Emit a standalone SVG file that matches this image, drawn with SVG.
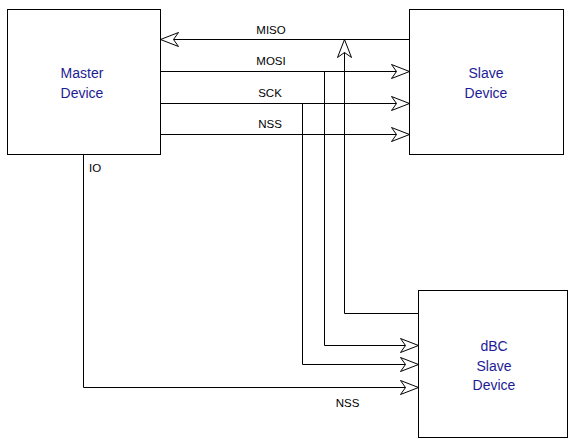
<svg xmlns="http://www.w3.org/2000/svg" width="568" height="439" viewBox="0 0 568 439">
<style>
.box{fill:#fff;stroke:#000;stroke-width:1}
.name{font-family:"Liberation Sans",Arial,sans-serif;font-size:14px;fill:#1c1c96;text-anchor:middle}
.lbl{font-family:"Liberation Sans",Arial,sans-serif;font-size:11.5px;fill:#000;text-anchor:middle}
.wire{fill:none;stroke:#000;stroke-width:1}
</style>
<defs>
<marker id="arr" markerUnits="userSpaceOnUse" markerWidth="22" markerHeight="18" refX="18" refY="7" orient="auto" overflow="visible">
<path d="M0,0 L18,7 L0,14 L5,7 Z" fill="#fff" stroke="#000" stroke-width="1"/>
</marker>
</defs>
<rect width="568" height="439" fill="#fff"/>
<g id="connectors">
<path class="wire" d="M409.5,39.5 H160.5" marker-end="url(#arr)"/>
<path class="wire" d="M160.5,71.5 H409.5" marker-end="url(#arr)"/>
<path class="wire" d="M160.5,103.5 H409.5" marker-end="url(#arr)"/>
<path class="wire" d="M158.5,134.5 H409.5" marker-end="url(#arr)"/>
<path class="wire" d="M418.5,313.5 H344.5 V39.5" marker-end="url(#arr)"/>
<path class="wire" d="M324.5,71.5 V345.5 H418.5" marker-end="url(#arr)"/>
<path class="wire" d="M302.5,103.5 V364.5 H418.5" marker-end="url(#arr)"/>
<path class="wire" d="M83.5,154.5 V387.5 H418.5" marker-end="url(#arr)"/>
<text class="lbl" x="271" y="34">MISO</text>
<text class="lbl" x="271" y="65">MOSI</text>
<text class="lbl" x="270" y="97">SCK</text>
<text class="lbl" x="270" y="128">NSS</text>
<text class="lbl" x="89" y="172" style="text-anchor:start">IO</text>
<text class="lbl" x="347.5" y="407">NSS</text>
</g>
<g id="master">
<rect class="box" x="7.5" y="9.5" width="153" height="145"/>
<text class="name" x="82" y="78">Master</text>
<text class="name" x="82" y="98">Device</text>
</g>
<g id="slave">
<rect class="box" x="409.5" y="9.5" width="154" height="145"/>
<text class="name" x="486" y="78">Slave</text>
<text class="name" x="486" y="98">Device</text>
</g>
<g id="dbc-slave">
<rect class="box" x="418.5" y="290.5" width="149" height="147"/>
<text class="name" x="494" y="351">dBC</text>
<text class="name" x="494" y="371">Slave</text>
<text class="name" x="494" y="390">Device</text>
</g>
</svg>
